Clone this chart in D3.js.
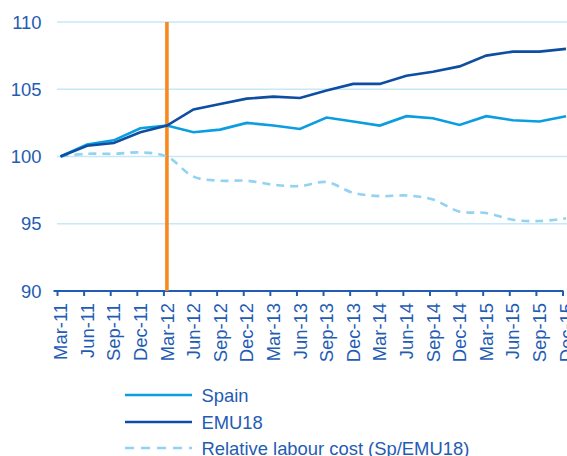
<!DOCTYPE html>
<html><head><meta charset="utf-8">
<script src="https://cdn.jsdelivr.net/npm/d3@7"></script>
<style>body{margin:0;background:#fff}svg{display:block}text{font-family:"Liberation Sans",Arial,sans-serif}</style>
</head><body><svg id="c" width="567" height="456"></svg>
<script>
const categories = ["Mar-11","Jun-11","Sep-11","Dec-11","Mar-12","Jun-12","Sep-12","Dec-12","Mar-13","Jun-13","Sep-13","Dec-13","Mar-14","Jun-14","Sep-14","Dec-14","Mar-15","Jun-15","Sep-15","Dec-15"];
const spain = [100,100.9,101.2,102.1,102.3,101.8,102.0,102.5,102.3,102.05,102.9,102.6,102.3,103.0,102.85,102.35,103.0,102.7,102.6,103.0];
const emu18 = [100,100.8,101.0,101.8,102.3,103.5,103.9,104.3,104.45,104.35,104.9,105.4,105.4,106.0,106.3,106.7,107.5,107.8,107.8,108.0];
const relative = [100,100.2,100.2,100.3,100.0,98.5,98.2,98.2,97.9,97.8,98.1,97.3,97.05,97.1,96.8,95.9,95.8,95.3,95.2,95.4];
const yTicks = [90,95,100,105,110];
const markerCategory = "Mar-12";
const seriesNames = ["Spain","EMU18","Relative labour cost (Sp/EMU18)"];

const svg = d3.select("#c");
const x = d3.scalePoint().domain(categories).range([60.5, 566]);
const y = d3.scaleLinear().domain([90,110]).range([291, 22]);
const axisBlue = "#1f5cb4";
const fs = 18.4;

// gridlines
svg.append("g").selectAll("line").data(yTicks.filter(d=>d>90)).join("line")
  .attr("x1",57).attr("x2",567).attr("y1",d=>y(d)).attr("y2",d=>y(d))
  .attr("stroke","#c6e8f7").attr("stroke-width",1.3);

// y labels
svg.append("g").selectAll("text").data(yTicks).join("text")
  .attr("x",41.5).attr("y",d=>y(d)).attr("dy","0.36em").attr("text-anchor","end")
  .attr("font-size",fs).attr("fill",axisBlue).text(d=>d);

// x axis
const xa = svg.append("g").attr("transform","translate(-3.5,291)")
  .call(d3.axisBottom(x).tickSize(5).tickFormat(""));
xa.select(".domain").attr("stroke",axisBlue).attr("stroke-width",2.2).attr("d","M57,0H567");
xa.selectAll(".tick line").attr("stroke",axisBlue).attr("stroke-width",2);

svg.append("g").selectAll("text").data(categories).join("text")
  .attr("transform",d=>`translate(${x(d)},303) rotate(-90)`)
  .attr("text-anchor","end").attr("dy","0.36em")
  .attr("font-size",fs).attr("fill",axisBlue).text(d=>d);

// orange marker
svg.append("line").attr("x1",x(markerCategory)).attr("x2",x(markerCategory))
  .attr("y1",y(110)).attr("y2",y(90)).attr("stroke","#f7891f").attr("stroke-width",3.6);

const line = d3.line().x((d,i)=>x(categories[i])).y(d=>y(d));
const smooth = d3.line().x((d,i)=>x(categories[i])).y(d=>y(d)).curve(d3.curveCatmullRom);

svg.append("path").datum(relative).attr("d",smooth).attr("fill","none")
  .attr("stroke","#93d2f1").attr("stroke-width",2.6).attr("stroke-dasharray","8,6");
svg.append("path").datum(spain).attr("d",line).attr("fill","none")
  .attr("stroke","#0a9ee0").attr("stroke-width",2.6);
svg.append("path").datum(emu18).attr("d",line).attr("fill","none")
  .attr("stroke","#0d4ea3").attr("stroke-width",2.6);

// legend
const leg = [
  {name:seriesNames[0], color:"#0a9ee0", dash:null, y:395},
  {name:seriesNames[1], color:"#0d4ea3", dash:null, y:422},
  {name:seriesNames[2], color:"#93d2f1", dash:"9,7", y:448}
];
const lg = svg.append("g");
lg.selectAll("line").data(leg).join("line")
  .attr("x1",125).attr("x2",192).attr("y1",d=>d.y).attr("y2",d=>d.y)
  .attr("stroke",d=>d.color).attr("stroke-width",2.6).attr("stroke-dasharray",d=>d.dash);
lg.selectAll("text").data(leg).join("text")
  .attr("x",201.5).attr("y",d=>d.y).attr("dy","0.36em")
  .attr("font-size",fs).attr("fill",axisBlue).text(d=>d.name);
</script></body></html>
